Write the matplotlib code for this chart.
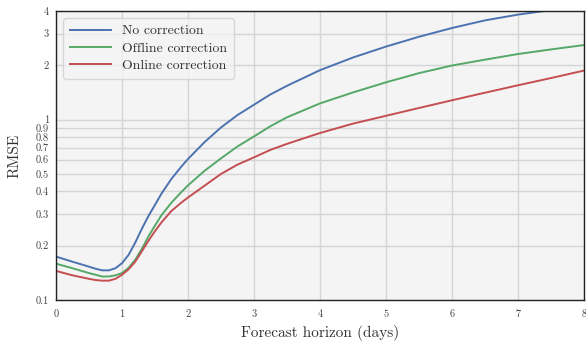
import numpy as np
import matplotlib
matplotlib.use("Agg")
from matplotlib import pyplot as plt
from matplotlib.ticker import FixedLocator, FixedFormatter, NullLocator

plt.rcParams['font.family'] = ['cmr10', 'DejaVu Serif']
plt.rcParams['axes.formatter.use_mathtext'] = True

# forecast horizon (days)
horizon = [0, 0.25, 0.5, 0.6, 0.7, 0.8, 0.9, 1.0, 1.1, 1.2, 1.3, 1.4, 1.5, 1.6, 1.75,
           1.9, 2.0, 2.25, 2.5, 2.75, 3.0, 3.25, 3.5, 4.0, 4.5, 5.0, 5.5, 6.0, 6.5,
           7.0, 7.5, 8.0]

rmse_none = [0.174, 0.163, 0.153, 0.149, 0.146, 0.146, 0.150, 0.160, 0.178, 0.208,
             0.248, 0.292, 0.337, 0.39, 0.47, 0.55, 0.605, 0.75, 0.905, 1.06, 1.21,
             1.38, 1.54, 1.88, 2.21, 2.54, 2.88, 3.22, 3.55, 3.82, 4.05, 4.35]
rmse_offline = [0.159, 0.150, 0.141, 0.138, 0.135, 0.135, 0.137, 0.141, 0.151, 0.167,
                0.192, 0.225, 0.259, 0.296, 0.347, 0.397, 0.432, 0.52, 0.61, 0.71,
                0.807, 0.92, 1.03, 1.23, 1.415, 1.61, 1.81, 1.995, 2.15, 2.31, 2.45,
                2.59]
rmse_online = [0.145, 0.137, 0.131, 0.129, 0.128, 0.128, 0.131, 0.138, 0.148, 0.163,
               0.186, 0.213, 0.241, 0.27, 0.312, 0.347, 0.37, 0.43, 0.50, 0.563,
               0.618, 0.68, 0.734, 0.843, 0.95, 1.05, 1.16, 1.28, 1.41, 1.55, 1.70,
               1.87]

ytick_vals = [0.1, 0.2, 0.3, 0.4, 0.5, 0.6, 0.7, 0.8, 0.9, 1, 2, 3, 4]
ytick_labels = ['0.1', '0.2', '0.3', '0.4', '0.5', '0.6', '0.7', '0.8', '0.9', '1', '2', '3', '4']

fig = plt.figure(figsize=(5.86, 3.42), dpi=100)
ax = fig.add_axes([0.0956, 0.1228, 0.901, 0.845])
ax.set_facecolor('#f4f4f4')

ax.plot(horizon, rmse_none, color='#4c72b0', lw=1.4, label='No correction')
ax.plot(horizon, rmse_offline, color='#55a868', lw=1.4, label='Offline correction')
ax.plot(horizon, rmse_online, color='#c44e52', lw=1.4, label='Online correction')

ax.set_yscale('log')
ax.set_xlim(0, 8)
ax.set_ylim(0.1, 4)
ax.yaxis.set_major_locator(FixedLocator(ytick_vals))
ax.yaxis.set_major_formatter(FixedFormatter(ytick_labels))
ax.yaxis.set_minor_locator(NullLocator())
ax.set_xticks(range(9))

ax.grid(True, color='#d5d5d5', lw=1.0)
ax.set_axisbelow(True)
for s in ax.spines.values():
    s.set_color('#222222')
    s.set_linewidth(1.0)
ax.tick_params(length=0, labelsize=7.5, colors='#444444', pad=5)

ax.set_xlabel('Forecast horizon (days)', fontsize=11, color='#333333')
ax.set_ylabel('RMSE', fontsize=11, color='#333333', labelpad=10)

leg = ax.legend(loc='upper left', fontsize=9.9, frameon=True, fancybox=True,
                handlelength=3, borderpad=0.5, labelspacing=0.35)
leg.get_frame().set_facecolor('#f4f4f4')
leg.get_frame().set_edgecolor('#d0d0d0')
for t in leg.get_texts():
    t.set_color('#333333')

fig.savefig('out.png', dpi=100)
